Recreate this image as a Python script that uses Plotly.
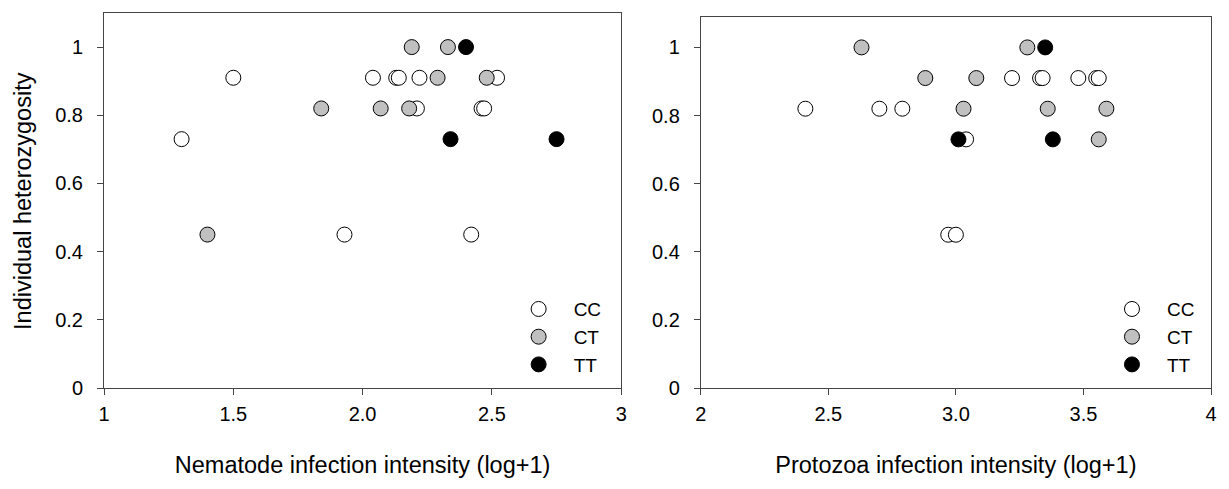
import plotly.graph_objects as go

# Nematode panel: (log+1 intensity, heterozygosity) by genotype
nem_cc_x = [1.50, 2.04, 2.13, 2.14, 2.22, 2.52, 2.21, 2.46, 2.47, 1.30, 1.93, 2.42]
nem_cc_y = [0.91, 0.91, 0.91, 0.91, 0.91, 0.91, 0.82, 0.82, 0.82, 0.73, 0.45, 0.45]
nem_ct_x = [2.19, 2.33, 2.29, 2.48, 1.84, 2.07, 2.18, 1.40]
nem_ct_y = [1.00, 1.00, 0.91, 0.91, 0.82, 0.82, 0.82, 0.45]
nem_tt_x = [2.40, 2.34, 2.75]
nem_tt_y = [1.00, 0.73, 0.73]

# Protozoa panel
pro_cc_x = [2.41, 2.70, 2.79, 3.04, 2.97, 3.00, 3.22, 3.33, 3.34, 3.48, 3.55, 3.56]
pro_cc_y = [0.82, 0.82, 0.82, 0.73, 0.45, 0.45, 0.91, 0.91, 0.91, 0.91, 0.91, 0.91]
pro_ct_x = [2.63, 3.28, 2.88, 3.08, 3.03, 3.36, 3.59, 3.56]
pro_ct_y = [1.00, 1.00, 0.91, 0.91, 0.82, 0.82, 0.82, 0.73]
pro_tt_x = [3.35, 3.01, 3.38]
pro_tt_y = [1.00, 0.73, 0.73]

genotypes = ["CC", "CT", "TT"]
fills = {"CC": "white", "CT": "#c0c0c0", "TT": "black"}

y_ticks = [0, 0.2, 0.4, 0.6, 0.8, 1.0]
y_ticktext = ["0", "0.2", "0.4", "0.6", "0.8", "1"]
nem_ticks = [1, 1.5, 2, 2.5, 3]
nem_ticktext = ["1", "1.5", "2.0", "2.5", "3"]
pro_ticks = [2, 2.5, 3, 3.5, 4]
pro_ticktext = ["2", "2.5", "3.0", "3.5", "4"]

FONT = "Liberation Sans, Arial, sans-serif"

fig = go.Figure()

panels = [
    ("x", "y", "legend", {"CC": (nem_cc_x, nem_cc_y), "CT": (nem_ct_x, nem_ct_y), "TT": (nem_tt_x, nem_tt_y)}),
    ("x2", "y2", "legend2", {"CC": (pro_cc_x, pro_cc_y), "CT": (pro_ct_x, pro_ct_y), "TT": (pro_tt_x, pro_tt_y)}),
]
for xa, ya, leg, series in panels:
    for g in genotypes:
        xs, ys = series[g]
        fig.add_trace(go.Scatter(
            x=xs, y=ys, mode="markers", name=g, xaxis=xa, yaxis=ya, legend=leg,
            marker=dict(size=15, color=fills[g], line=dict(color="black", width=1)),
        ))

axis_common = dict(
    showline=True, linecolor="#444", linewidth=1, mirror=True,
    ticks="outside", ticklen=6, tickcolor="#444", showgrid=False, zeroline=False,
    tickfont=dict(family=FONT, size=20, color="black"),
)
left_dom = [0.0, 0.4672]
right_dom = [0.5391, 1.0]
TITLE_SIZE = 23.5

legend_common = dict(
    xanchor="left", yanchor="top", bgcolor="rgba(0,0,0,0)",
    font=dict(family=FONT, size=19), tracegroupgap=0, itemwidth=60,
)

fig.update_layout(
    width=1229, height=489,
    margin=dict(l=104, r=12, t=13, b=101),
    paper_bgcolor="white", plot_bgcolor="white",
    font=dict(family=FONT, size=20, color="black"),
    xaxis=dict(domain=left_dom, range=[1, 3], tickvals=nem_ticks, ticktext=nem_ticktext,
               ticklabelstandoff=2,
               title=dict(text="Nematode infection intensity (log+1)", font=dict(size=TITLE_SIZE), standoff=32),
               anchor="y", **axis_common),
    yaxis=dict(domain=[0, 1], range=[0, 1.1], tickvals=y_ticks, ticktext=y_ticktext,
               ticklabelstandoff=10, anchor="x", **axis_common),
    xaxis2=dict(domain=right_dom, range=[2, 4], tickvals=pro_ticks, ticktext=pro_ticktext,
                ticklabelstandoff=2,
                title=dict(text="Protozoa infection intensity (log+1)", font=dict(size=TITLE_SIZE), standoff=32),
                anchor="y2", **axis_common),
    yaxis2=dict(domain=[0, 0.99], range=[0, 1.09], tickvals=y_ticks, ticktext=y_ticktext,
                ticklabelstandoff=10,
                anchor="x2", **axis_common),
    legend=dict(x=0.361, y=0.261, **legend_common),
    legend2=dict(x=0.897, y=0.261, **legend_common),
    annotations=[dict(
        text="Individual heterozygosity", textangle=-90, showarrow=False,
        xref="paper", yref="paper", x=-0.0737, y=0.50, xanchor="center", yanchor="middle",
        font=dict(family=FONT, size=TITLE_SIZE, color="black"),
    )],
)

fig.write_html("out.html")
